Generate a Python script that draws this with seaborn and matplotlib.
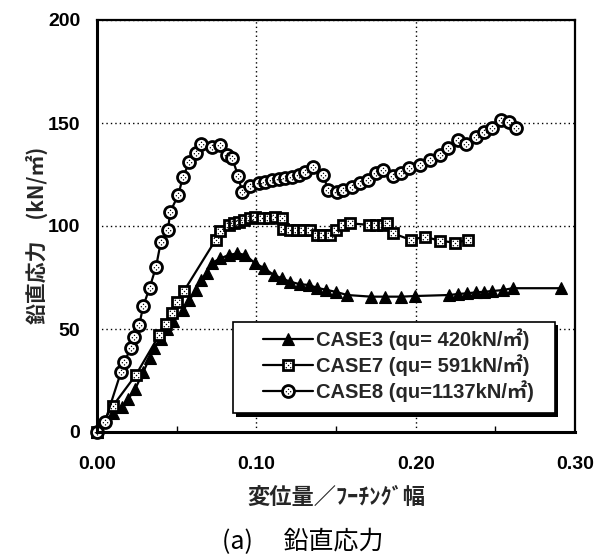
import numpy as np
import matplotlib
matplotlib.use("Agg")
import matplotlib.pyplot as plt
from matplotlib.path import Path
from matplotlib.markers import MarkerStyle
from matplotlib.lines import Line2D
from matplotlib.patches import Rectangle
from matplotlib.legend_handler import HandlerTuple
from matplotlib.font_manager import FontProperties
import seaborn as sns

# ---- data: vertical stress vs. settlement / footing width ----
case3_x = [0.000, 0.010, 0.0155, 0.0196, 0.024, 0.029, 0.033, 0.036, 0.040, 0.044,
           0.048, 0.054, 0.058, 0.062, 0.065, 0.069, 0.072, 0.0775, 0.083, 0.088,
           0.093, 0.099, 0.105, 0.111, 0.116, 0.121, 0.1275, 0.133, 0.138, 0.144,
           0.150, 0.157, 0.172, 0.1805, 0.191, 0.1995, 0.221, 0.2265, 0.232, 0.238,
           0.243, 0.248, 0.2545, 0.261, 0.291]
case3_y = [0, 9, 12, 16, 21, 29, 36, 41, 45, 50,
           54, 59, 64, 69, 74, 77, 82, 84.3, 86, 86.7,
           86, 82, 79.5, 76.2, 74.6, 73, 71.7, 71.4, 70, 69,
           68, 66.5, 65.7, 65.7, 65.7, 66, 66.5, 67, 67.3, 67.8,
           68.1, 68.4, 68.9, 69.8, 69.8]

case7_x = [0.000, 0.0098, 0.0244, 0.039, 0.043, 0.047, 0.050, 0.0546, 0.0744, 0.0775,
           0.0827, 0.086, 0.089, 0.092, 0.096, 0.0994, 0.1035, 0.1077, 0.1119, 0.116,
           0.117, 0.121, 0.1254, 0.1296, 0.1338, 0.138, 0.142, 0.146, 0.150, 0.1546,
           0.159, 0.171, 0.175, 0.1796, 0.182, 0.186, 0.197, 0.2056, 0.215, 0.2244,
           0.2327]
case7_y = [0, 12.5, 27.7, 47, 52.5, 57.6, 63, 68.5, 93.2, 97.5,
           100.5, 101.3, 102.1, 102.9, 103.7, 104.5, 103.7, 103.7, 104.5, 103.7,
           98.5, 98, 98, 98, 98, 95.6, 95.6, 95.6, 98, 100.5,
           101.3, 100.5, 100.5, 100.5, 101.3, 96.4, 93.2, 94.8, 92.9, 91.9,
           93.2]

case8_x = [0.000, 0.005, 0.015, 0.017, 0.0215, 0.023, 0.0265, 0.029, 0.033, 0.037,
           0.040, 0.0445, 0.046, 0.051, 0.054, 0.058, 0.062, 0.0655, 0.0723, 0.0775,
           0.0817, 0.0848, 0.0885, 0.091, 0.0963, 0.1015, 0.1056, 0.1098, 0.114, 0.118,
           0.1223, 0.1265, 0.1306, 0.1358, 0.142, 0.145, 0.1504, 0.1546, 0.160, 0.165,
           0.170, 0.175, 0.1796, 0.186, 0.191, 0.196, 0.2025, 0.209, 0.215, 0.220,
           0.2265, 0.2317, 0.238, 0.243, 0.248, 0.2535, 0.2588, 0.263]
case8_y = [0, 5, 29, 34, 41, 46, 52, 61, 70, 80,
           92, 98, 107, 115, 124, 131, 135.5, 140, 138.5, 139.3,
           134.5, 133, 124.5, 116.7, 119.5, 121, 121.5, 122.3, 123, 123.1,
           124, 124.8, 126.4, 128.8, 124.8, 117.5, 116.7, 117.5, 119, 120.7,
           122.3, 125.6, 127.2, 124.3, 125.9, 128, 129.6, 132, 134.5, 137.7,
           141.7, 140, 143.4, 145.8, 147.4, 151.5, 150.6, 147.4]

labels = ["CASE3 (qu= 420kN/㎡)", "CASE7 (qu= 591kN/㎡)", "CASE8 (qu=1137kN/㎡)"]
x_ticks = [0.00, 0.10, 0.20, 0.30]
y_ticks = [0, 50, 100, 150, 200]
x_label = "変位量／ﾌｰﾁﾝｸﾞ幅"
y_label = "鉛直応力\u3000(kN/㎡)"
caption = "(a)\u3000 鉛直応力"

sns.set_theme(style="white")
plt.rcParams["font.family"] = ["Liberation Sans", "Noto Sans CJK JP", "DejaVu Sans"]
plt.rcParams["axes.unicode_minus"] = False
JP = ["Noto Sans CJK JP", "DejaVu Sans"]


def dot_marker(centers, r=0.16):
    """Small filled dots used as the speckle inside the hollow markers."""
    paths = [Path.circle(c, r) for c in centers]
    return MarkerStyle(Path.make_compound_path(*paths))


circle_dots = dot_marker([(0, 0.5), (-0.5, -0.05), (0.5, -0.05), (0, -0.55)])
square_dots = dot_marker([(-0.5, 0.5), (0.5, 0.5), (0, 0), (-0.5, -0.5), (0.5, -0.5)])

fig = plt.figure(figsize=(6.05, 5.54), dpi=100)
ax = fig.add_axes([97 / 605, 122 / 554, 478 / 605, 412 / 554])

LW = 1.6
styles = {
    "CASE3": dict(marker="^", ms=9, mfc="black", mec="black", mew=0.8),
    "CASE7": dict(marker="s", ms=7.4, mfc="white", mec="black", mew=2.0),
    "CASE8": dict(marker="o", ms=8.6, mfc="white", mec="black", mew=2.0),
}

series = [("CASE3", case3_x, case3_y, None, 0),
          ("CASE7", case7_x, case7_y, square_dots, 4.2),
          ("CASE8", case8_x, case8_y, circle_dots, 4.4)]

for i, (name, xs, ys, dots, dsize) in enumerate(series):
    st = styles[name]
    sns.lineplot(x=xs, y=ys, ax=ax, color="black", lw=LW, sort=False,
                 estimator=None, zorder=3 + 2 * i, clip_on=False, **st)
    if dots is not None:
        sns.scatterplot(x=xs, y=ys, ax=ax, marker=dots, s=dsize ** 2,
                        color="black", linewidth=0, zorder=4 + 2 * i,
                        clip_on=False)

ax.set_xlim(0, 0.30)
ax.set_ylim(0, 200)
ax.set_xticks(x_ticks)
ax.set_xticklabels([f"{v:.2f}" for v in x_ticks])
ax.set_yticks(y_ticks)
ax.set_xticks([0.05, 0.15, 0.25], minor=True)
ax.tick_params(axis="both", which="major", direction="in", length=0,
               labelsize=14, colors="black")
ax.tick_params(axis="x", which="major", pad=17)
ax.tick_params(axis="y", which="major", pad=12)
ax.tick_params(axis="x", which="minor", direction="in", length=4, width=1,
               bottom=True, color="black")
for lab in ax.get_xticklabels() + ax.get_yticklabels():
    lab.set_fontweight("bold")
ax.grid(True, which="major", color="black", linestyle=(0, (1.0, 2.2)), lw=1.0)
for side, sp in ax.spines.items():
    sp.set_color("black")
    sp.set_linewidth(2.2 if side in ("left", "bottom") else 1.6)
    sp.set_zorder(20)

ax.set_xlabel(x_label, fontsize=16, fontweight="bold", family=JP, va="center")
ax.xaxis.set_label_coords(0.5, -0.160)
ax.set_ylabel(y_label, fontsize=15, fontweight="bold", family=JP, va="center")
ax.yaxis.set_label_coords(-0.126, 0.478)

# legend box with a solid drop shadow
bx0, bx1, by0, by1 = 0.2845, 0.958, 0.046, 0.267
sx, sy = 3.5 / 478, 3.5 / 412
ax.add_patch(Rectangle((bx0 + sx, by0 - sy), bx1 - bx0, by1 - by0,
                       transform=ax.transAxes, facecolor="black",
                       edgecolor="black", lw=0, zorder=30))
ax.add_patch(Rectangle((bx0, by0), bx1 - bx0, by1 - by0,
                       transform=ax.transAxes, facecolor="white",
                       edgecolor="black", lw=1.2, zorder=31))

h3 = Line2D([], [], color="black", lw=LW, **styles["CASE3"])
h7 = Line2D([], [], color="black", lw=LW, **styles["CASE7"])
h7d = Line2D([], [], ls="none", marker=square_dots, ms=4.2, mfc="black", mec="none")
h8 = Line2D([], [], color="black", lw=LW, **styles["CASE8"])
h8d = Line2D([], [], ls="none", marker=circle_dots, ms=4.4, mfc="black", mec="none")

leg = ax.legend([h3, (h7, h7d), (h8, h8d)], labels,
                handler_map={tuple: HandlerTuple(ndivide=1, pad=0)},
                loc="upper left", bbox_to_anchor=(0.347, 0.2524),
                frameon=False, borderpad=0, borderaxespad=0,
                handlelength=2.5, handletextpad=0.15, labelspacing=0.2,
                prop=FontProperties(family=["Liberation Sans", "Noto Sans CJK JP"],
                                    size=14.5, weight="bold"))
leg.set_zorder(40)

fig.text(0.5, 12 / 554, caption, ha="center", va="center", fontsize=18,
         family=JP, color="black")

fig.savefig("out.png", dpi=100, facecolor="white")
